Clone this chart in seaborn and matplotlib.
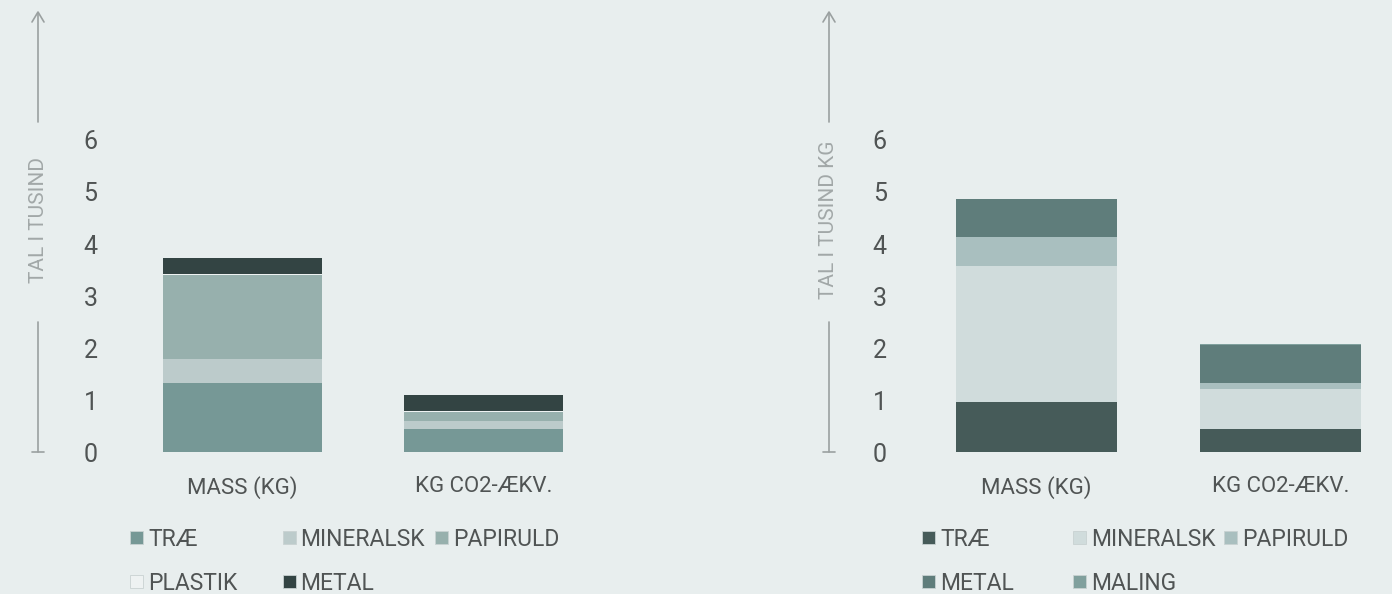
import numpy as np
import pandas as pd
import matplotlib.pyplot as plt
import seaborn as sns
from matplotlib.lines import Line2D
from matplotlib.patches import Rectangle

# data (thousands)
categories = ["MASS (KG)", "KG CO2-ÆKV."]

left_labels = ["TRÆ", "MINERALSK", "PAPIRULD", "PLASTIK", "METAL"]
left_trae = [1.33, 0.44]
left_mineralsk = [0.46, 0.16]
left_papiruld = [1.61, 0.17]
left_plastik = [0.02, 0.02]
left_metal = [0.31, 0.31]
left_colors = ["#769896", "#bccbcb", "#97b0ad", "#eef2f2", "#334443"]

right_labels = ["TRÆ", "MINERALSK", "PAPIRULD", "METAL", "MALING"]
right_trae = [0.96, 0.44]
right_mineralsk = [2.62, 0.77]
right_papiruld = [0.55, 0.12]
right_metal = [0.74, 0.73]
right_maling = [0.0, 0.02]
right_colors = ["#465b59", "#d0dcdc", "#a9bfbf", "#5f7d7b", "#80a09d"]

bg = "#e8eeee"
txt = "#505454"
axis_grey = "#9aa0a0"

sns.set_theme(style="white")
plt.rcParams["font.family"] = ["Roboto", "DejaVu Sans"]

W, H = 1392, 594
fig = plt.figure(figsize=(W / 100, H / 100), dpi=100, facecolor=bg)


def stacked(ax, layers, colors):
    # draw cumulative totals from the top layer down, seaborn style
    df = pd.DataFrame(np.array(layers).T, columns=range(len(layers)))
    cum = df.cumsum(axis=1)
    for i in reversed(range(len(layers))):
        d = pd.DataFrame({"cat": categories, "val": cum[i].values})
        sns.barplot(data=d, x="cat", y="val", color=colors[i], saturation=1,
                    width=0.66, errorbar=None, linewidth=0, ax=ax)
    ax.set_ylim(0, 6)
    ax.set_yticks(range(0, 7))
    ax.set_xlabel("")
    ax.set_ylabel("")
    ax.set_facecolor(bg)
    sns.despine(ax=ax, left=True, bottom=True)
    ax.tick_params(axis="both", length=0, colors=txt)
    for t in ax.get_yticklabels():
        t.set_fontsize(18)
    for t in ax.get_xticklabels():
        t.set_fontsize(16)


def fig_line(xs, ys, **kw):
    # xs/ys in pixels from top-left
    fig.add_artist(Line2D([v / W for v in xs], [1 - v / H for v in ys],
                          transform=fig.transFigure, color=axis_grey, lw=1.2, **kw))


def draw_side(x, label):
    fig_line([x, x], [122, 13])
    fig_line([x - 6, x, x + 6], [22, 12, 22])
    fig_line([x, x], [322, 452])
    fig_line([x - 6, x + 6], [452, 452])
    fig.text(x / W, 1 - 220 / H, label, rotation=90, ha="center", va="center",
             fontsize=15, color="#a2a8a8")


def legend_grid(labels, colors, x0, step, rows_y):
    for k, (lab, c) in enumerate(zip(labels, colors)):
        col, row = k % 3, k // 3
        x = x0 + col * step
        y = rows_y[row]
        fig.add_artist(Rectangle((x / W, 1 - (y + 6.5) / H), 13 / W, 13 / H,
                                 transform=fig.transFigure, facecolor=c,
                                 edgecolor="#c9d2d2", lw=0.6))
        fig.text((x + 18) / W, 1 - y / H, lab, ha="left", va="center_baseline",
                 fontsize=16.5, color=txt)


# left chart
ax1 = fig.add_axes([110 / W, 142 / H, 506 / W, 312 / H])
stacked(ax1, [left_trae, left_mineralsk, left_papiruld, left_plastik, left_metal], left_colors)
ax1.set_xlim(-0.55, 1.55)
ax1.tick_params(axis="y", pad=9)
ax1.tick_params(axis="x", pad=17)
draw_side(38, "TAL I TUSIND")
legend_grid(left_labels, left_colors, 130, 152.5, [537, 581])

# right chart
ax2 = fig.add_axes([902 / W, 142 / H, 488 / W, 312 / H])
stacked(ax2, [right_trae, right_mineralsk, right_papiruld, right_metal, right_maling], right_colors)
ax2.set_xlim(-0.55, 1.45)
ax2.tick_params(axis="y", pad=11)
ax2.tick_params(axis="x", pad=17)
draw_side(829, "TAL I TUSIND KG")
legend_grid(right_labels, right_colors, 922, 151, [537, 581])

fig.savefig("out.png", dpi=100, facecolor=bg)
